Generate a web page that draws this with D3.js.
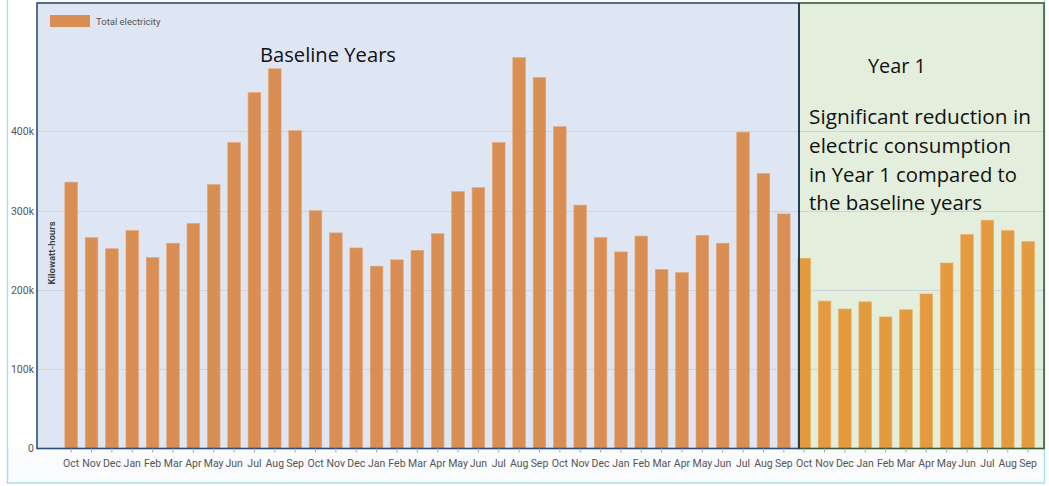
<!DOCTYPE html>
<html>
<head>
<meta charset="utf-8">
<script src="https://cdn.jsdelivr.net/npm/d3@7"></script>
<style>
  body { margin: 0; background: #fff; }
  svg { display: block; }
</style>
</head>
<body>
<svg width="1049" height="486"></svg>
<script>
// monthly totals, kWh (thousands)
var months = ["Oct","Nov","Dec","Jan","Feb","Mar","Apr","May","Jun","Jul","Aug","Sep"];
var baselineKwh = [336,266,252,275,241,259,284,333,386,449,479,401,
                   300,272,253,230,238,250,271,324,329,386,493,468,
                   406,307,266,248,268,226,222,269,259,399,347,296];
var year1Kwh = [240,186,176,185,166,175,195,234,270,288,275,261];
var yTicks = [0, 100000, 200000, 300000, 400000];
var noteLines = ["Significant reduction in", "electric consumption", "in Year 1 compared to", "the baseline years"];

var data = baselineKwh.map(function(v, i) {
  return {key: i, month: months[i % 12], value: v * 1000, period: "base"};
}).concat(year1Kwh.map(function(v, i) {
  return {key: baselineKwh.length + i, month: months[i % 12], value: v * 1000, period: "y1"};
}));

var svg = d3.select("svg");

var x = d3.scaleBand()
  .domain(data.map(function(d) { return d.key; }))
  .range([61, 1038.3])
  .paddingInner(0.38)
  .paddingOuter(0.19);

var y = d3.scaleLinear().domain([0, 562000]).range([448.5, 3]);

var plotTop = 3, plotBottom = y(0), plotLeft = 37, split = 799, plotRight = 1044;

// outer frame
svg.append("rect")
  .attr("x", 7.5).attr("y", -2).attr("width", plotRight - 7).attr("height", 485)
  .attr("fill", "#fafbfc").attr("stroke", "#a9def0").attr("stroke-width", 1.5);
svg.append("rect")
  .attr("x", 8.5).attr("y", 0).attr("width", plotLeft - 8.5).attr("height", plotBottom)
  .attr("fill", "#fff");

// shaded periods
svg.append("rect")
  .attr("x", plotLeft).attr("y", plotTop).attr("width", split - plotLeft).attr("height", plotBottom - plotTop)
  .attr("fill", "#dfe6f3");
svg.append("rect")
  .attr("x", split).attr("y", plotTop).attr("width", plotRight - split).attr("height", plotBottom - plotTop)
  .attr("fill", "#e3efdc");

// grid
svg.append("g")
  .selectAll("line")
  .data(yTicks.slice(1))
  .enter().append("line")
  .attr("x1", plotLeft).attr("x2", plotRight)
  .attr("y1", function(d) { return Math.round(y(d)) + 0.5; })
  .attr("y2", function(d) { return Math.round(y(d)) + 0.5; })
  .attr("stroke", "#cdd4e0").attr("stroke-width", 1);

// bars
svg.append("g")
  .selectAll("rect")
  .data(data)
  .enter().append("rect")
  .attr("x", function(d) { return x(d.key); })
  .attr("width", x.bandwidth())
  .attr("y", function(d) { return y(d.value); })
  .attr("height", function(d) { return y(0) - y(d.value); })
  .attr("fill", function(d) { return d.period == "base" ? "#d98e54" : "#e49a3f"; })
  .attr("stroke", function(d) { return d.period == "base" ? "#e6a474" : "#eeb060"; })
  .attr("stroke-width", 0.6);

// period borders
svg.append("rect")
  .attr("x", plotLeft).attr("y", plotTop).attr("width", split - plotLeft).attr("height", plotBottom - plotTop)
  .attr("fill", "none").attr("stroke", "#2e4c77").attr("stroke-width", 1.6);
svg.append("rect")
  .attr("x", split).attr("y", plotTop).attr("width", plotRight - split).attr("height", plotBottom - plotTop)
  .attr("fill", "none").attr("stroke", "#3b5a35").attr("stroke-width", 1.6);
svg.append("line")
  .attr("x1", split).attr("x2", split).attr("y1", plotTop).attr("y2", plotBottom)
  .attr("stroke", "#1f3558").attr("stroke-width", 1.6);

// y axis
var yAxis = d3.axisLeft(y)
  .tickValues(yTicks)
  .tickSize(0)
  .tickPadding(3)
  .tickFormat(function(d) { return d == 0 ? "0" : d3.format("~s")(d); });
var gy = svg.append("g").attr("transform", "translate(" + plotLeft + ",0)").call(yAxis);
gy.select(".domain").remove();
gy.selectAll("text")
  .attr("font-family", "Roboto, sans-serif").attr("font-size", 10.5).attr("fill", "#555");

// x axis
var xAxis = d3.axisBottom(x)
  .tickSize(4)
  .tickPadding(7)
  .tickFormat(function(k) { return data[k].month; });
var gx = svg.append("g").attr("transform", "translate(0," + plotBottom + ")").call(xAxis);
gx.select(".domain").remove();
gx.selectAll(".tick line").attr("stroke", "#aaa");
gx.selectAll("text")
  .attr("font-family", "Roboto, sans-serif").attr("font-size", 10.5).attr("fill", "#555");

// y title
svg.append("text")
  .attr("transform", "translate(55,253) rotate(-90)")
  .attr("text-anchor", "middle")
  .attr("font-family", "Roboto, sans-serif").attr("font-size", 9.5).attr("font-weight", "bold")
  .attr("fill", "#444")
  .text("Kilowatt-hours");

// legend
svg.append("rect")
  .attr("x", 50).attr("y", 15).attr("width", 40).attr("height", 12)
  .attr("fill", "#d98e54");
svg.append("text")
  .attr("x", 96).attr("y", 24.5)
  .attr("font-family", "Roboto, sans-serif").attr("font-size", 9.5).attr("fill", "#555")
  .text("Total electricity");

// annotations
var annFont = "'Open Sans', 'Noto Sans', sans-serif";
svg.append("text")
  .attr("x", 260).attr("y", 62)
  .attr("font-family", annFont).attr("font-size", 20).attr("fill", "#111")
  .attr("textLength", 136).attr("lengthAdjust", "spacingAndGlyphs")
  .text("Baseline Years");
svg.append("text")
  .attr("x", 868).attr("y", 73)
  .attr("font-family", annFont).attr("font-size", 20).attr("fill", "#111")
  .attr("textLength", 58).attr("lengthAdjust", "spacingAndGlyphs")
  .text("Year 1");

var noteWidths = [222, 202, 208, 173];
svg.append("g")
  .selectAll("text")
  .data(noteLines)
  .enter().append("text")
  .attr("x", 809)
  .attr("y", function(d, i) { return 124 + i * 28.8; })
  .attr("font-family", annFont).attr("font-size", 20).attr("fill", "#111")
  .attr("textLength", function(d, i) { return noteWidths[i]; })
  .attr("lengthAdjust", "spacingAndGlyphs")
  .text(function(d) { return d; });
</script>
</body>
</html>
